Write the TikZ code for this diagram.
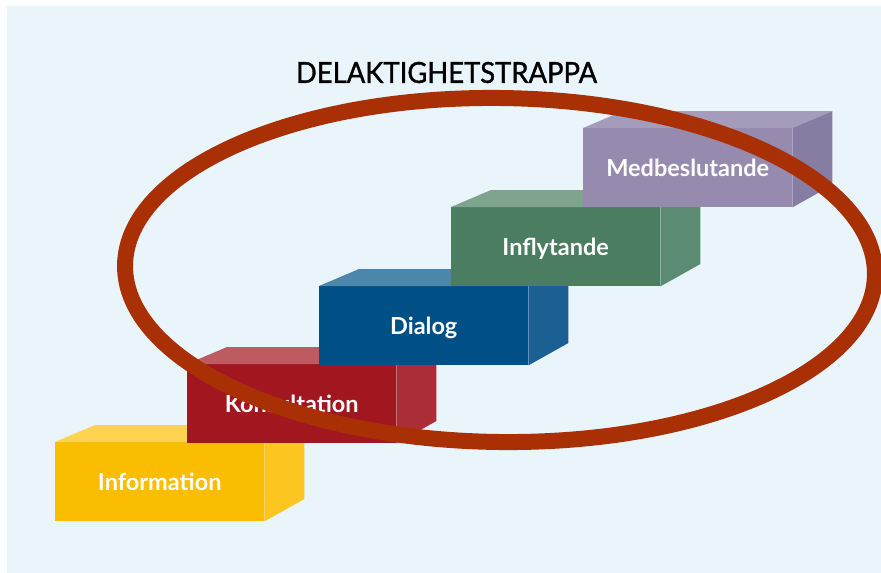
\documentclass[tikz,border=0pt]{standalone}
\usepackage{fontspec}
\usepackage{graphicx}
\setmainfont{Lato}
\newfontfamily\titlefont[FakeBold=1.2]{Lato}
\usetikzlibrary{calc}
\definecolor{bg}{HTML}{EAF5FB}
\definecolor{ringc}{HTML}{A93005}
\definecolor{yfront}{HTML}{FBBD00}
\definecolor{ytop}{HTML}{FDD34F}
\definecolor{yside}{HTML}{FCC520}
\definecolor{rfront}{HTML}{A1161F}
\definecolor{rtop}{HTML}{BE5B61}
\definecolor{rside}{HTML}{AB2E37}
\definecolor{bfront}{HTML}{004F86}
\definecolor{btop}{HTML}{4C86AB}
\definecolor{bside}{HTML}{1B6093}
\definecolor{gfront}{HTML}{4B7D61}
\definecolor{gtop}{HTML}{7EA48D}
\definecolor{gside}{HTML}{5B8B72}
\definecolor{pfront}{HTML}{968AAE}
\definecolor{ptop}{HTML}{A59BBA}
\definecolor{pside}{HTML}{877DA3}
\newcommand{\stairblock}[6]{%
  \node[face, fill=#3] (#1) at (#2) {#6};
  \fill[#4] (#1.north west) -- ++(40,-17) -- ++(209,0) -- (#1.north east) -- cycle;
  \fill[#5] (#1.north east) -- ++(40,-17) -- ++(0,74) -- (#1.south east) -- cycle;
}
\begin{document}
\begin{tikzpicture}[x=1pt,y=-1pt,
  face/.style={rectangle, inner sep=0pt, minimum width=209pt, minimum height=79pt,
    anchor=north west, text=white, font=\bfseries\fontsize{23.5}{26}\selectfont,
    text height=17pt, text depth=0pt},
  ring/.style={draw=ringc, line width=16pt},
  titlestyle/.style={inner sep=0pt, text=black}]
\useasboundingbox (0,0) rectangle (881,573);
\fill[white] (0,0) rectangle (881,573);
\fill[bg] (7,6) rectangle (881,573);

\stairblock{info}{55,442}{yfront}{ytop}{yside}{Information}
\stairblock{kons}{187,364}{rfront}{rtop}{rside}{Konsultation}
\stairblock{dialog}{319,286}{bfront}{btop}{bside}{Dialog}
\stairblock{infl}{451,207}{gfront}{gtop}{gside}{Inflytande}
\stairblock{medb}{583,128}{pfront}{ptop}{pside}{Medbeslutande}

\node[titlestyle] (title) at (446.5,72.5) {\resizebox{301pt}{21pt}{\titlefont DELAKTIGHETSTRAPPA}};

\draw[ring, rotate around={-0.75:(500,270)}] (500,270) ellipse [x radius=375pt, y radius=172pt];
\end{tikzpicture}
\end{document}
